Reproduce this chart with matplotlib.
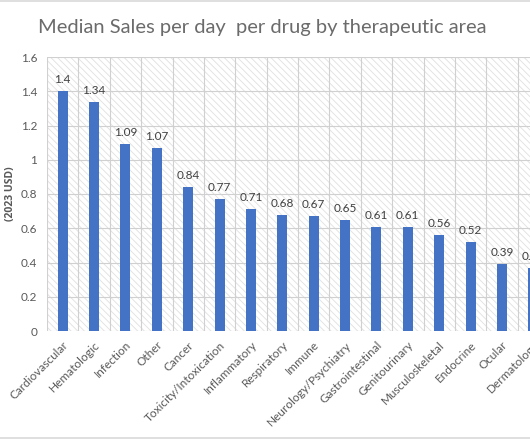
import matplotlib.pyplot as plt
import numpy as np

areas = ['Cardiovascular', 'Hematologic', 'Infection', 'Other', 'Cancer',
         'Toxicity/Intoxication', 'Inflammatory', 'Respiratory', 'Immune',
         'Neurology/Psychiatry', 'Gastrointestinal', 'Genitourinary',
         'Musculoskeletal', 'Endocrine', 'Ocular', 'Dermatology']
sales = [1.4, 1.34, 1.09, 1.07, 0.84, 0.77, 0.71, 0.68, 0.67, 0.65,
         0.61, 0.61, 0.56, 0.52, 0.39, 0.37]
labels = ['1.4', '1.34', '1.09', '1.07', '0.84', '0.77', '0.71', '0.68', '0.67',
          '0.65', '0.61', '0.61', '0.56', '0.52', '0.39', '0.37']
yticks = [0, 0.2, 0.4, 0.6, 0.8, 1, 1.2, 1.4, 1.6]
ytick_labels = ['0', '0.2', '0.4', '0.6', '0.8', '1', '1.2', '1.4', '1.6']

plt.rcParams['font.family'] = ['Lato', 'DejaVu Sans']
plt.rcParams['hatch.color'] = '#e0e0e0'
plt.rcParams['hatch.linewidth'] = 0.6

grey = '#595959'
fig = plt.figure(figsize=(5.3, 4.42), dpi=100)
ax = fig.add_axes([47 / 530, 111 / 442, 502 / 530, 274 / 442])

x = np.arange(len(areas))
ax.set_xlim(-0.5, len(areas) - 0.5)
ax.set_ylim(0, 1.6)

# hatched plot background
ax.add_patch(plt.Rectangle((-0.5, 0), len(areas), 1.6, facecolor='white',
                           edgecolor='#e0e0e0', hatch='\\\\\\\\\\', lw=0, zorder=0))

for v in yticks:
    ax.axhline(v, color='#d0d0d0', lw=0.8, zorder=1)
for b in np.arange(-0.5, len(areas), 1):
    ax.axvline(b, color='#d0d0d0', lw=0.8, zorder=1)

ax.bar(x, sales, width=0.32, color='#4472C4', zorder=2)
for xi, v, t in zip(x, sales, labels):
    ax.text(xi, v + 0.035, t, ha='center', va='bottom', fontsize=8.5,
            color='#404040', zorder=3)

for s in ax.spines.values():
    s.set_visible(False)
ax.tick_params(length=0)
ax.set_yticks(yticks)
ax.set_yticklabels(ytick_labels, fontsize=8.5, color=grey)
ax.set_xticks(x)
ax.set_xticklabels(areas, rotation=45, ha='right', rotation_mode='anchor',
                   fontsize=8.5, color=grey)
ax.tick_params(axis='x', pad=6)
ax.tick_params(axis='y', pad=7)

ax.set_ylabel('(2023 USD)', fontsize=7.5, fontweight='bold', color=grey,
              family=['Open Sans', 'DejaVu Sans'])
ax.yaxis.set_label_coords(-31 / 502, 0.5)

fig.text(262 / 530, 1 - 27 / 442, 'Median Sales per day  per drug by therapeutic area',
         ha='center', va='center', fontsize=14.5, color='#6b6b6b')

# outer chart frame
fig.add_artist(plt.Line2D([0, 1], [1 - 1 / 442, 1 - 1 / 442], color='#d9d9d9', lw=1.2))
fig.add_artist(plt.Line2D([0, 1], [4 / 442, 4 / 442], color='#d9d9d9', lw=1.2))

fig.savefig('out.png', dpi=100)
